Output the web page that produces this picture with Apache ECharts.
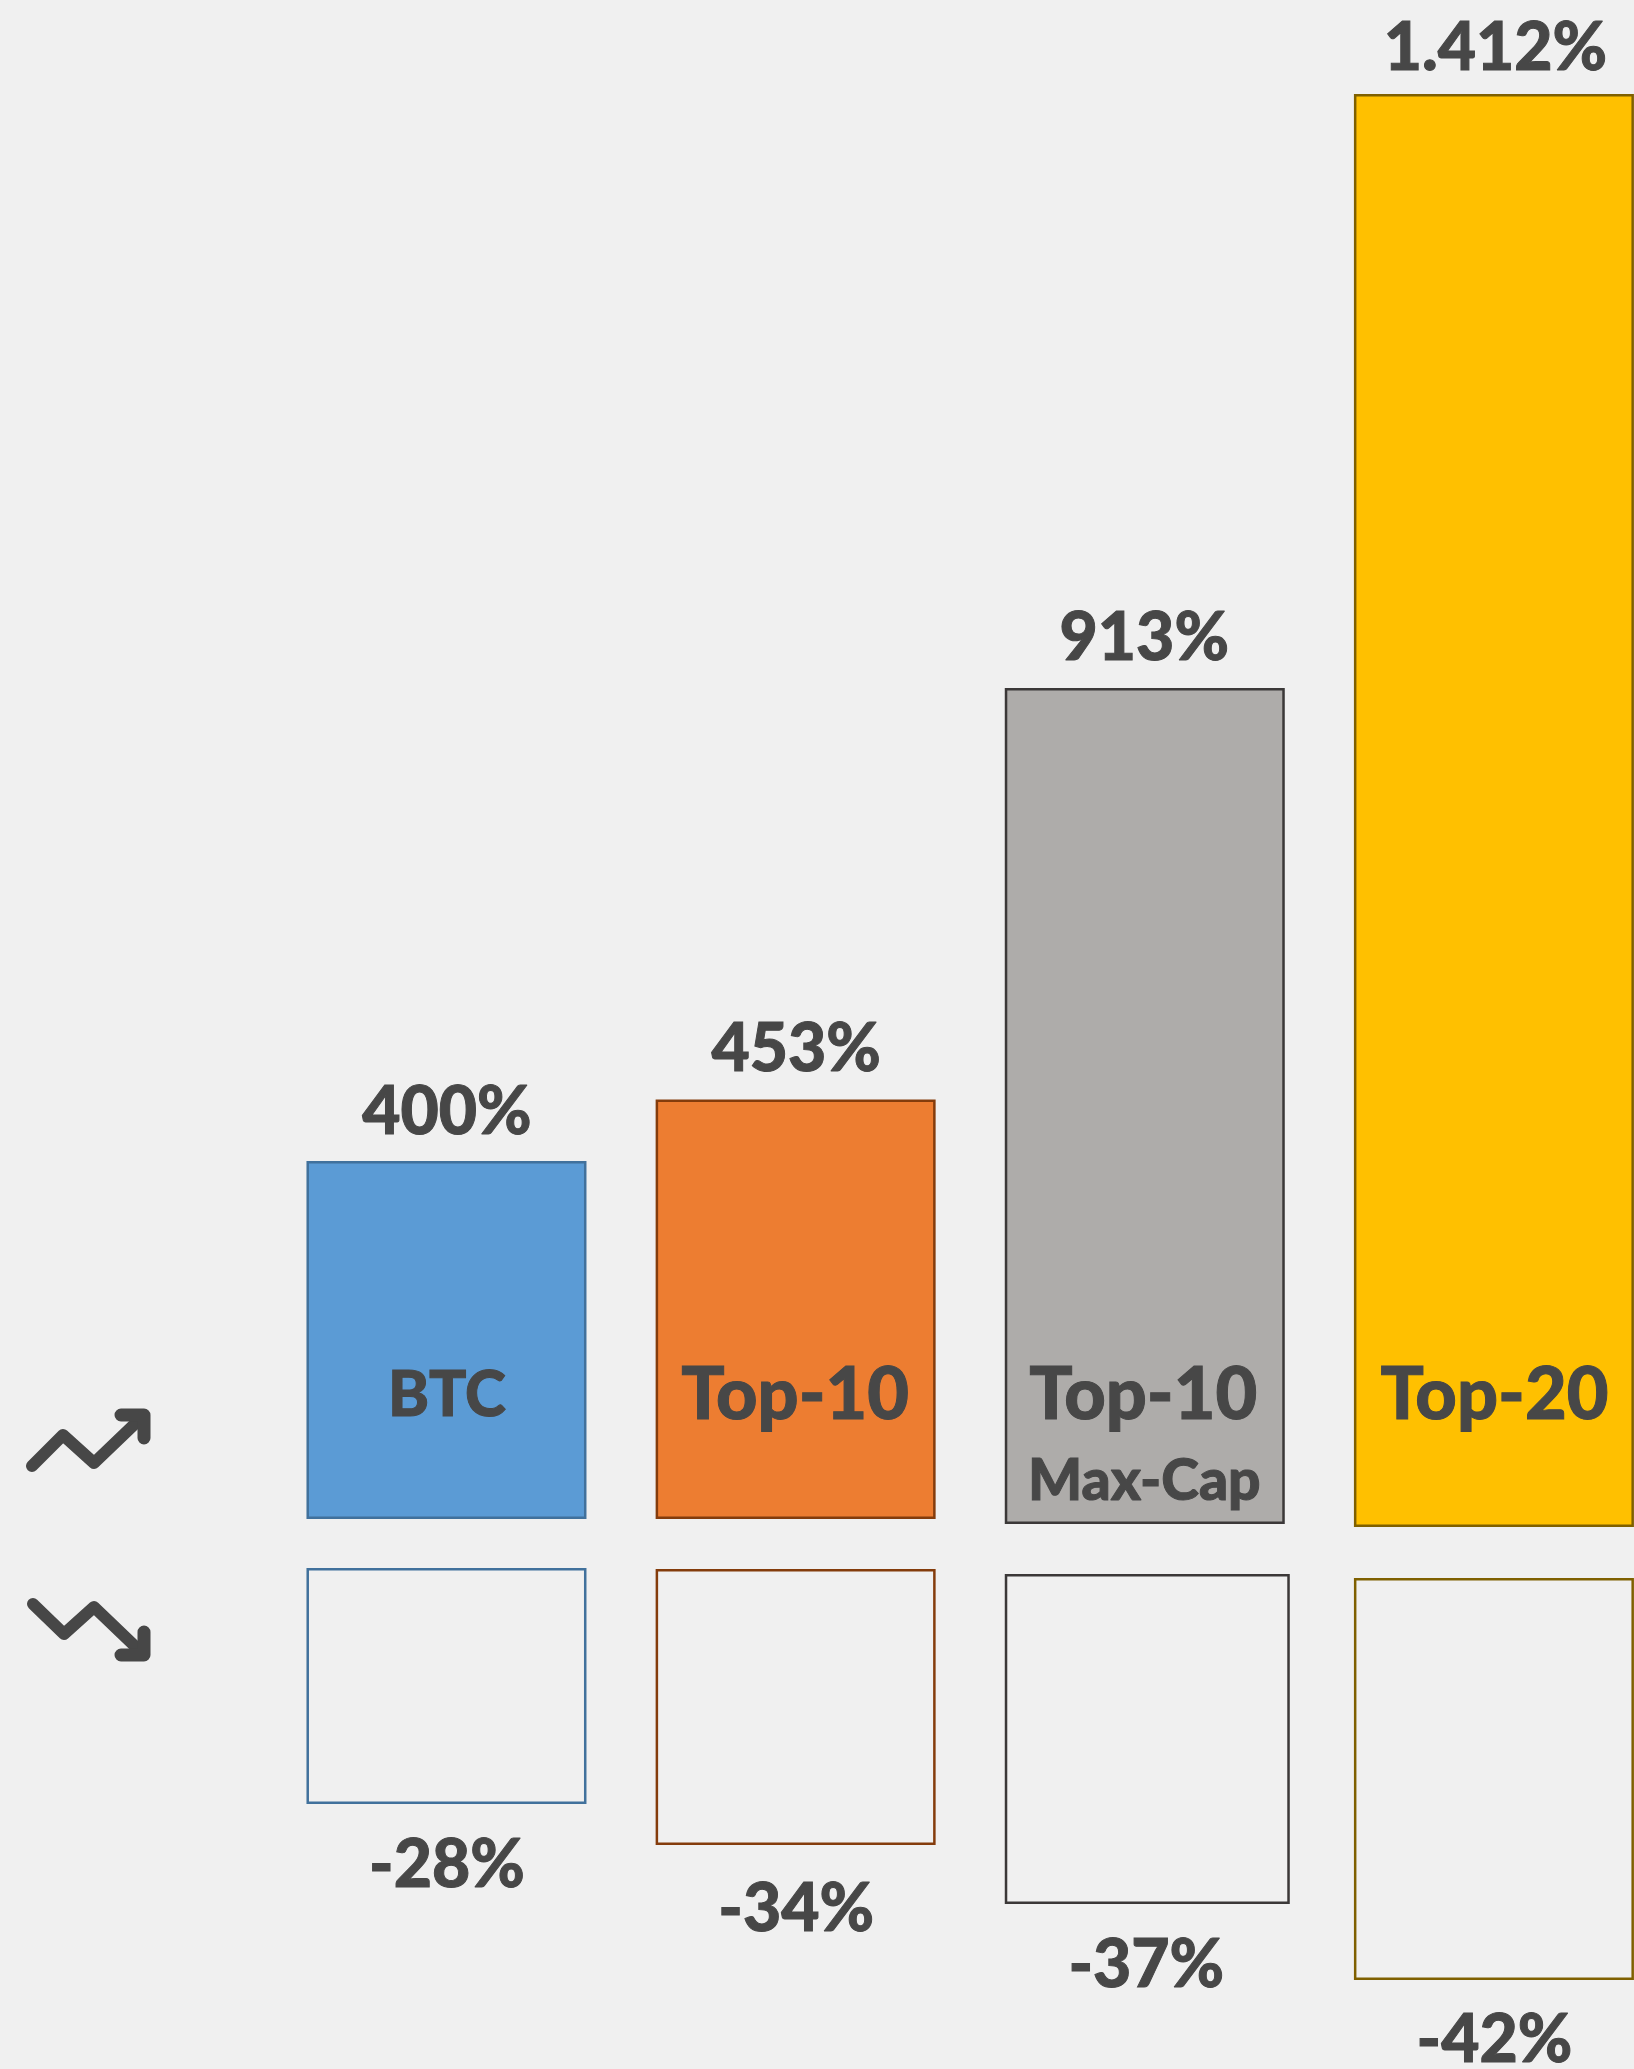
<!DOCTYPE html>
<html>
<head>
<meta charset="utf-8">
<title>Returns by portfolio</title>
<style>html,body{margin:0;padding:0;background:#F0F0F0}#chart{width:1634px;height:2069px}</style>
<script src="https://cdn.jsdelivr.net/npm/echarts@6/dist/echarts.min.js"></script>
</head>
<body>
<div id="chart"></div>
<script>
// ---- Data ----
const categories = ['BTC', 'Top-10', 'Top-10 Max-Cap', 'Top-20'];
const nameLabels = ['BTC', 'Top-10', 'Top-10', 'Top-20'];
const subLabels = ['', '', 'Max-Cap', ''];
const gainLabels = ['400%', '453%', '913%', '1.412%'];
const lossLabels = ['-28%', '-34%', '-37%', '-42%'];
// The bars in the reference are not to scale with their printed figures,
// so the drawn bar lengths are read off the picture separately.
const gainLengths = [358, 419.5, 836, 1433];
const lossLengths = [-236, -276, -330, -402];

// ---- Layout and style ----
const gainGaps = [25, 25, 20, 17];
const lossGaps = [-24, -25, -30, -34];
const fills = ['#5B9BD5', '#ED7D31', '#AEACAA', '#FFC000'];
const borders = ['#41719C', '#843C0C', '#3B3838', '#7F6000'];
const ink = '#474747';
const font = 'Lato, Carlito, "Open Sans", sans-serif';
const nameSizes = [62, 72, 72, 72];
const nameY = 148, subY = 62;
const gainNudges = [[-2, 1], [-2, -1], [-3, 0], [-1, 4]];
const lossNudges = [[-2, 1], [-2, 4], [-1, 1], [-2, 0]];
const nameNudges = [[-2, 0], [-3, 0], [-4, 0], [-2, 0]];
const subNudges = [[-2, 0], [-2, 0], [-3, 0], [-2, 0]];
const borderWidth = 2.5;

const chart = echarts.init(document.getElementById('chart'), null, {renderer: 'canvas', width: 1634, height: 2069});

const spacer = (stack, data, barWidth) => ({
  type: 'bar', stack, data, barWidth, barGap: '-100%', silent: true,
  itemStyle: {color: 'transparent', borderWidth: 0}
});
const gainData = gainLengths.map((v, i) => ({value: v, itemStyle: {color: fills[i], borderColor: borders[i], borderWidth}}));
const lossStyled = lossLengths.map((v, i) => ({value: v, itemStyle: {color: '#F0F0F0', borderColor: borders[i], borderWidth}}));
const only = (arr, keep) => arr.map((v, i) => keep(i) ? v : '-');
const textSeries = (data, labelFn, position, distance, sizeFn, lh, nudges) => ({
  type: 'scatter', symbolSize: 0, silent: true, z: 5,
  itemStyle: {opacity: 1},
  data: data.map((v, i) => ({
    value: [categories[i], v],
    label: {fontSize: sizeFn(i), lineHeight: lh, offset: nudges[i]}
  })),
  label: {
    show: true, position, distance,
    fontFamily: font, fontWeight: 900, color: ink, opacity: 1,
    textBorderColor: ink, textBorderWidth: 1,
    formatter: p => labelFn[p.dataIndex]
  }
});

const option = {
  backgroundColor: '#F0F0F0',
  animation: false,
  grid: {left: 274.4, top: 0, width: 1396.6, height: 2069, outerBoundsMode: 'none'},
  xAxis: {type: 'category', data: categories, show: false},
  yAxis: {type: 'value', min: -525, max: 1544, show: false},
  series: [
    spacer('gain', gainGaps, 280),
    {type: 'bar', stack: 'gain', barWidth: 280, barGap: '-100%', data: gainData},
    spacer('loss', only(lossGaps, i => i !== 2), 280),
    {type: 'bar', stack: 'loss', barWidth: 280, barGap: '-100%', data: only(lossStyled, i => i !== 2)},
    spacer('lossWide', only(lossGaps, i => i === 2), 285),
    {type: 'bar', stack: 'lossWide', barWidth: 285, barGap: '-100%', data: only(lossStyled, i => i === 2)},
    textSeries(gainLengths.map((v, i) => v + gainGaps[i]), gainLabels, 'top', 16, () => 66, 66, gainNudges),
    textSeries(lossLengths.map((v, i) => v + lossGaps[i]), lossLabels, 'bottom', 28, () => 66, 66, lossNudges),
    textSeries(categories.map(() => nameY), nameLabels, 'inside', 0, i => nameSizes[i], 70, nameNudges),
    textSeries(categories.map(() => subY), subLabels, 'inside', 0, () => 57, 57, subNudges)
  ],
  graphic: [
    {type: 'polyline', shape: {points: [[32, 1466], [63, 1435], [94, 1463], [141, 1418]]},
      style: {fill: null, stroke: ink, lineWidth: 12, lineCap: 'round', lineJoin: 'round'}},
    {type: 'polyline', shape: {points: [[121, 1415], [144, 1415], [144, 1438]]},
      style: {fill: null, stroke: ink, lineWidth: 13, lineCap: 'round', lineJoin: 'round'}},
    {type: 'polyline', shape: {points: [[33, 1604], [64, 1634], [94, 1607], [141, 1652]]},
      style: {fill: null, stroke: ink, lineWidth: 12, lineCap: 'round', lineJoin: 'round'}},
    {type: 'polyline', shape: {points: [[121, 1655], [144, 1655], [144, 1632]]},
      style: {fill: null, stroke: ink, lineWidth: 13, lineCap: 'round', lineJoin: 'round'}}
  ]
};
chart.setOption(option);
</script>
</body>
</html>
